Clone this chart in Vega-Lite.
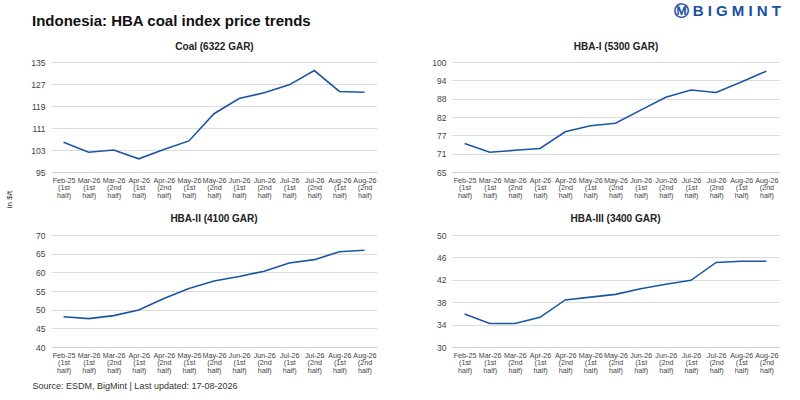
{
  "$schema": "https://vega.github.io/schema/vega-lite/v6.json",
  "padding": {"left": 5, "top": 4, "right": 16, "bottom": 6},
  "background": "white",
  "datasets": {
    "hba": [
      {"period": "Feb-25 (1st half)", "index": "Coal (6322 GAR)", "price": 105.8},
      {"period": "Mar-26 (1st half)", "index": "Coal (6322 GAR)", "price": 102.2},
      {"period": "Mar-26 (2nd half)", "index": "Coal (6322 GAR)", "price": 103.0},
      {"period": "Apr-26 (1st half)", "index": "Coal (6322 GAR)", "price": 99.8},
      {"period": "Apr-26 (2nd half)", "index": "Coal (6322 GAR)", "price": 103.2},
      {"period": "May-26 (1st half)", "index": "Coal (6322 GAR)", "price": 106.3},
      {"period": "May-26 (2nd half)", "index": "Coal (6322 GAR)", "price": 116.2},
      {"period": "Jun-26 (1st half)", "index": "Coal (6322 GAR)", "price": 121.7},
      {"period": "Jun-26 (2nd half)", "index": "Coal (6322 GAR)", "price": 123.8},
      {"period": "Jul-26 (1st half)", "index": "Coal (6322 GAR)", "price": 126.7},
      {"period": "Jul-26 (2nd half)", "index": "Coal (6322 GAR)", "price": 131.9},
      {"period": "Aug-26 (1st half)", "index": "Coal (6322 GAR)", "price": 124.3},
      {"period": "Aug-26 (2nd half)", "index": "Coal (6322 GAR)", "price": 124.0},
      {"period": "Feb-25 (1st half)", "index": "HBA-I (5300 GAR)", "price": 74.1},
      {"period": "Mar-26 (1st half)", "index": "HBA-I (5300 GAR)", "price": 71.3},
      {"period": "Mar-26 (2nd half)", "index": "HBA-I (5300 GAR)", "price": 71.9},
      {"period": "Apr-26 (1st half)", "index": "HBA-I (5300 GAR)", "price": 72.5},
      {"period": "Apr-26 (2nd half)", "index": "HBA-I (5300 GAR)", "price": 77.8},
      {"period": "May-26 (1st half)", "index": "HBA-I (5300 GAR)", "price": 79.7},
      {"period": "May-26 (2nd half)", "index": "HBA-I (5300 GAR)", "price": 80.5},
      {"period": "Jun-26 (1st half)", "index": "HBA-I (5300 GAR)", "price": 84.7},
      {"period": "Jun-26 (2nd half)", "index": "HBA-I (5300 GAR)", "price": 88.8},
      {"period": "Jul-26 (1st half)", "index": "HBA-I (5300 GAR)", "price": 91.1},
      {"period": "Jul-26 (2nd half)", "index": "HBA-I (5300 GAR)", "price": 90.3},
      {"period": "Aug-26 (1st half)", "index": "HBA-I (5300 GAR)", "price": 93.6},
      {"period": "Aug-26 (2nd half)", "index": "HBA-I (5300 GAR)", "price": 97.1},
      {"period": "Feb-25 (1st half)", "index": "HBA-II (4100 GAR)", "price": 48.1},
      {"period": "Mar-26 (1st half)", "index": "HBA-II (4100 GAR)", "price": 47.6},
      {"period": "Mar-26 (2nd half)", "index": "HBA-II (4100 GAR)", "price": 48.4},
      {"period": "Apr-26 (1st half)", "index": "HBA-II (4100 GAR)", "price": 49.9},
      {"period": "Apr-26 (2nd half)", "index": "HBA-II (4100 GAR)", "price": 53.0},
      {"period": "May-26 (1st half)", "index": "HBA-II (4100 GAR)", "price": 55.7},
      {"period": "May-26 (2nd half)", "index": "HBA-II (4100 GAR)", "price": 57.7},
      {"period": "Jun-26 (1st half)", "index": "HBA-II (4100 GAR)", "price": 58.9},
      {"period": "Jun-26 (2nd half)", "index": "HBA-II (4100 GAR)", "price": 60.3},
      {"period": "Jul-26 (1st half)", "index": "HBA-II (4100 GAR)", "price": 62.5},
      {"period": "Jul-26 (2nd half)", "index": "HBA-II (4100 GAR)", "price": 63.4},
      {"period": "Aug-26 (1st half)", "index": "HBA-II (4100 GAR)", "price": 65.5},
      {"period": "Aug-26 (2nd half)", "index": "HBA-II (4100 GAR)", "price": 65.9},
      {"period": "Feb-25 (1st half)", "index": "HBA-III (3400 GAR)", "price": 35.9},
      {"period": "Mar-26 (1st half)", "index": "HBA-III (3400 GAR)", "price": 34.2},
      {"period": "Mar-26 (2nd half)", "index": "HBA-III (3400 GAR)", "price": 34.2},
      {"period": "Apr-26 (1st half)", "index": "HBA-III (3400 GAR)", "price": 35.3},
      {"period": "Apr-26 (2nd half)", "index": "HBA-III (3400 GAR)", "price": 38.4},
      {"period": "May-26 (1st half)", "index": "HBA-III (3400 GAR)", "price": 38.9},
      {"period": "May-26 (2nd half)", "index": "HBA-III (3400 GAR)", "price": 39.4},
      {"period": "Jun-26 (1st half)", "index": "HBA-III (3400 GAR)", "price": 40.4},
      {"period": "Jun-26 (2nd half)", "index": "HBA-III (3400 GAR)", "price": 41.2},
      {"period": "Jul-26 (1st half)", "index": "HBA-III (3400 GAR)", "price": 41.9},
      {"period": "Jul-26 (2nd half)", "index": "HBA-III (3400 GAR)", "price": 45.1},
      {"period": "Aug-26 (1st half)", "index": "HBA-III (3400 GAR)", "price": 45.3},
      {"period": "Aug-26 (2nd half)", "index": "HBA-III (3400 GAR)", "price": 45.3}
    ]
  },
  "data": {"name": "hba"},
  "columns": 2,
  "bounds": "flush",
  "spacing": {"row": 63, "column": 75},
  "concat": [
    {
      "width": 326,
      "height": 110,
      "title": {
        "text": "Indonesia: HBA coal index price trends",
        "anchor": "start",
        "frame": "group",
        "dx": -19,
        "fontSize": 15,
        "color": "#111111",
        "offset": 12
      },
      "transform": [{"filter": "datum.index == 'Coal (6322 GAR)'"}],
      "layer": [
        {
          "mark": {"type": "line", "color": "#1a55a8", "strokeWidth": 1.6},
          "encoding": {
            "x": {"field": "period", "type": "ordinal", "sort": null, "title": null},
            "y": {
              "field": "price",
              "type": "quantitative",
              "title": "in $/t",
              "scale": {"domain": [95, 135], "nice": false},
              "axis": {"values": [95, 103, 111, 119, 127, 135], "titleY": 137, "titleX": -38}
            }
          }
        },
        {
          "mark": {"type": "line", "opacity": 0},
          "encoding": {
            "x": {
              "field": "period",
              "type": "ordinal",
              "sort": null,
              "title": "Coal (6322 GAR)",
              "axis": {"orient": "top", "labels": false, "domain": false, "ticks": false, "titlePadding": 11, "titleFontSize": 10, "titleFontWeight": "bold", "titleColor": "#222222"}
            },
            "y": {"field": "price", "type": "quantitative", "axis": null}
          }
        }
      ],
      "resolve": {"axis": {"x": "independent", "y": "independent"}}
    },
    {
      "width": 327,
      "height": 110,
      "title": {
        "text": "Ⓜ B I G M I N T",
        "anchor": "end",
        "frame": "group",
        "dx": 2,
        "fontSize": 15,
        "color": "#1a4fa3",
        "offset": 22
      },
      "transform": [{"filter": "datum.index == 'HBA-I (5300 GAR)'"}],
      "layer": [
        {
          "mark": {"type": "line", "color": "#1a55a8", "strokeWidth": 1.6},
          "encoding": {
            "x": {"field": "period", "type": "ordinal", "sort": null, "title": null},
            "y": {
              "field": "price",
              "type": "quantitative",
              "title": null,
              "scale": {"domain": [65, 100], "nice": false},
              "axis": {"values": [65, 70.83, 76.67, 82.49, 88.33, 94.17, 100], "format": ".0f"}
            }
          }
        },
        {
          "mark": {"type": "line", "opacity": 0},
          "encoding": {
            "x": {
              "field": "period",
              "type": "ordinal",
              "sort": null,
              "title": "HBA-I (5300 GAR)",
              "axis": {"orient": "top", "labels": false, "domain": false, "ticks": false, "titlePadding": 11, "titleFontSize": 10, "titleFontWeight": "bold", "titleColor": "#222222"}
            },
            "y": {"field": "price", "type": "quantitative", "axis": null}
          }
        }
      ],
      "resolve": {"axis": {"x": "independent", "y": "independent"}}
    },
    {
      "width": 326,
      "height": 112,
      "title": {"text": "HBA-II (4100 GAR)"},
      "transform": [{"filter": "datum.index == 'HBA-II (4100 GAR)'"}],
      "mark": {"type": "line", "color": "#1a55a8", "strokeWidth": 1.6},
      "encoding": {
        "x": {
          "field": "period",
          "type": "ordinal",
          "sort": null,
          "title": "Source: ESDM, BigMint | Last updated: 17-08-2026",
          "axis": {"titleX": -19, "titleY": 38, "titleAlign": "left", "titleAnchor": "start", "titleFontSize": 9, "titleFontWeight": "normal", "titleColor": "#333333", "titleBaseline": "middle"}
        },
        "y": {
          "field": "price",
          "type": "quantitative",
          "title": null,
          "scale": {"domain": [40, 70], "nice": false},
          "axis": {"values": [40, 45, 50, 55, 60, 65, 70]}
        }
      }
    },
    {
      "width": 327,
      "height": 112,
      "title": {"text": "HBA-III (3400 GAR)"},
      "transform": [{"filter": "datum.index == 'HBA-III (3400 GAR)'"}],
      "mark": {"type": "line", "color": "#1a55a8", "strokeWidth": 1.6},
      "encoding": {
        "x": {"field": "period", "type": "ordinal", "sort": null, "title": null},
        "y": {
          "field": "price",
          "type": "quantitative",
          "title": null,
          "scale": {"domain": [30, 50], "nice": false},
          "axis": {"values": [30, 34, 38, 42, 46, 50]}
        }
      }
    }
  ],
  "config": {
    "font": "Liberation Sans",
    "view": {"stroke": null},
    "title": {"fontSize": 10, "fontWeight": "bold", "color": "#222222", "anchor": "middle", "offset": 7},
    "axisX": {
      "labelAngle": 0,
      "labelExpr": "split(datum.value, ' ')",
      "labelFontSize": 7.2,
      "labelColor": "#444444",
      "labelLineHeight": 7.5,
      "labelPadding": 4,
      "ticks": false,
      "domainColor": "#d0d0d0",
      "grid": false,
      "labelOverlap": false
    },
    "axisY": {
      "labelFontSize": 8.5,
      "labelColor": "#444444",
      "ticks": false,
      "domain": false,
      "gridColor": "#dcdcdc",
      "labelPadding": 6,
      "titleFontSize": 8,
      "titleFontWeight": "normal",
      "titleColor": "#333333"
    }
  }
}
